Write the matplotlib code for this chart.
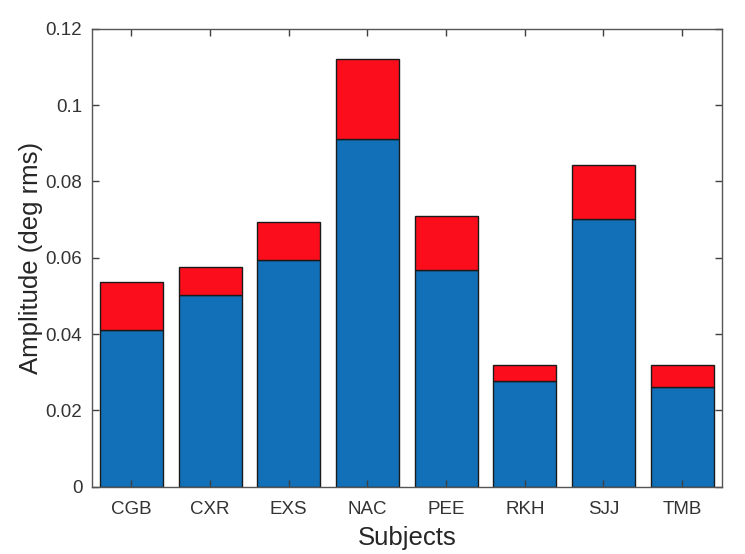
import numpy as np
import matplotlib.pyplot as plt

plt.rcParams['font.family'] = ['Liberation Sans', 'DejaVu Sans']

# Subjects and stacked amplitudes (deg rms)
subjects = ['CGB', 'CXR', 'EXS', 'NAC', 'PEE', 'RKH', 'SJJ', 'TMB']
lower = [0.0411, 0.0502, 0.0593, 0.0911, 0.0568, 0.0277, 0.0701, 0.0262]
total = [0.0536, 0.0577, 0.0693, 0.1121, 0.0710, 0.0319, 0.0843, 0.0319]
upper = [t - l for t, l in zip(total, lower)]

x = np.arange(1, len(subjects) + 1)

fig = plt.figure(figsize=(7.45, 5.54), dpi=100)
ax = fig.add_axes([0.1235, 0.1215, 0.845, 0.8265])

ax.bar(x, lower, width=0.8, color='#1170b8', edgecolor='#1a1a1a', linewidth=1.0)
ax.bar(x, upper, width=0.8, bottom=lower, color='#fc0d1b', edgecolor='#1a1a1a', linewidth=1.0)

ax.set_xlim(0.5, 8.5)
ax.set_ylim(0, 0.12)
ax.set_xticks(x)
ax.set_xticklabels(subjects)
ax.set_yticks([0, 0.02, 0.04, 0.06, 0.08, 0.1, 0.12])
ax.set_yticklabels(['0', '0.02', '0.04', '0.06', '0.08', '0.1', '0.12'])

ax.tick_params(direction='in', top=True, right=True, length=5, width=1,
               color='#404040', labelcolor='#333333', labelsize=13.5)
ax.tick_params(axis='x', pad=10)
ax.tick_params(axis='y', pad=7)
for s in ax.spines.values():
    s.set_color('#555555')
    s.set_linewidth(1.0)

ax.set_xlabel('Subjects', fontsize=18.5, color='#262626', labelpad=6)
ax.set_ylabel('Amplitude (deg rms)', fontsize=18.5, color='#262626', labelpad=2)

fig.savefig('out.png', dpi=100)
